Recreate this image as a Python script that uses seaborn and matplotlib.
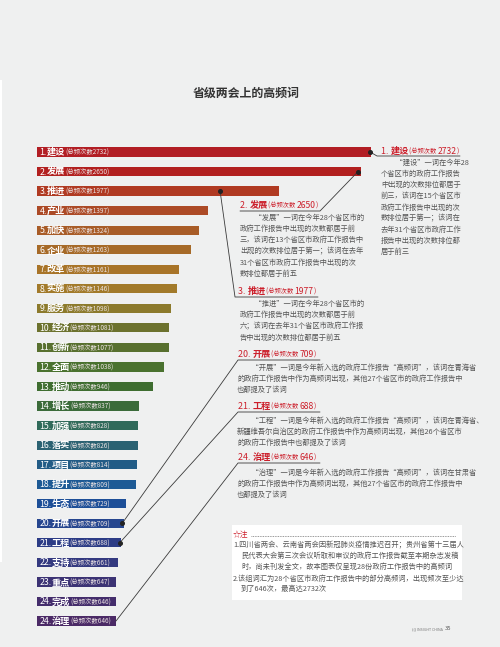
import matplotlib
matplotlib.use("Agg")
import matplotlib.pyplot as plt
import seaborn as sns
import pandas as pd
from matplotlib.transforms import Affine2D
from matplotlib.patches import Rectangle
from matplotlib.lines import Line2D

# ---------------- data ----------------
ranks = [1, 2, 3, 4, 5, 6, 7, 8, 9, 10, 11, 12, 13, 14, 15, 16, 17, 18, 19, 20, 21, 22, 23, 24, 24]
words = ["建设", "发展", "推进", "产业", "加快", "企业", "改革", "实施", "服务", "经济", "创新", "全面",
         "推动", "增长", "加强", "落实", "项目", "提升", "生态", "开展", "工程", "支持", "重点", "完成", "治理"]
counts = [2732, 2650, 1977, 1397, 1324, 1263, 1161, 1146, 1098, 1081, 1077, 1038,
          946, 837, 828, 826, 814, 809, 729, 709, 688, 661, 647, 646, 646]
bar_colors = ["#b21e24", "#b2201f", "#b03a22", "#ac4a26", "#a85c27", "#a66a28", "#a87428", "#a27a2a",
              "#8c7a2c", "#6c722e", "#58702f", "#4a722f", "#3e6d30", "#3b6b3a", "#306a5a", "#2b6272",
              "#225c86", "#1d5a95", "#1d4f98", "#26468f", "#2c3c86", "#343a80", "#3c3374", "#442d6c", "#4b2a66"]

title = "省级两会上的高频词"
count_prefix = "(总频次数"

notes_texts = {
    0: ["　　“建设”一词在今年28", "个省区市的政府工作报告", "中出现的次数排位都居于", "前三，该词在15个省区市",
        "政府工作报告中出现的次", "数排位居于第一；该词在", "去年31个省区市政府工作", "报告中出现的次数排位都", "居于前三"],
    1: ["　　“发展”一词在今年28个省区市的", "政府工作报告中出现的次数都居于前", "三，该词在13个省区市政府工作报告中",
        "出现的次数排位居于第一；该词在去年", "31个省区市政府工作报告中出现的次", "数排位都居于前五"],
    2: ["　　“推进”一词在今年28个省区市的", "政府工作报告中出现的次数都居于前", "六；该词在去年31个省区市政府工作报",
        "告中出现的次数排位都居于前五"],
    19: ["　　“开展”一词是今年新入选的政府工作报告“高频词”，该词在青海省",
         "的政府工作报告中作为高频词出现，其他27个省区市的政府工作报告中", "也都提及了该词"],
    20: ["　　“工程”一词是今年新入选的政府工作报告“高频词”，该词在青海省、",
         "新疆维吾尔自治区的政府工作报告中作为高频词出现，其他26个省区市", "的政府工作报告中也都提及了该词"],
    24: ["　　“治理”一词是今年新入选的政府工作报告“高频词”，该词在甘肃省",
         "的政府工作报告中作为高频词出现，其他27个省区市的政府工作报告中", "也都提及了该词"],
}
footnote_title = "☆注"
footnote_lines = [
    ("1.", ["四川省两会、云南省两会因新冠肺炎疫情推迟召开；贵州省第十三届人",
            "民代表大会第三次会议听取和审议的政府工作报告截至本期杂志发稿",
            "时，尚未刊发全文，故本图表仅呈现28份政府工作报告中的高频词"]),
    ("2.", ["该组词汇为28个省区市政府工作报告中的部分高频词，出现频次至少达",
            "到了646次，最高达2732次"]),
]

# ---------------- figure ----------------
sns.set_theme(style="white")
plt.rcParams['font.family'] = ['Noto Sans CJK SC', 'DejaVu Sans']

W, H = 500, 647
BG = "#eff0f0"
fig = plt.figure(figsize=(W / 100, H / 100), dpi=100)
fig.patch.set_facecolor(BG)
renderer = fig.canvas.get_renderer()
PX = Affine2D().scale(0.01) + fig.dpi_scale_trans   # pixel coords (100 dpi), y up


def dy(py):
    """pixel-from-top -> pixel-from-bottom"""
    return H - py


scale = 0.1223  # px per unit
n = len(counts)
top_c, step = 152.0, (621.0 - 152.0) / (n - 1)
ax_top = top_c - step / 2
ax_bot = ax_top + step * n
ax = fig.add_axes([37 / W, 1 - ax_bot / H, (W - 37) / W, (ax_bot - ax_top) / H])
ax.set_facecolor(BG)

df = pd.DataFrame({"label": [f"{r}.{w}" for r, w in zip(ranks, words)], "count": counts})
sns.barplot(data=df, x="count", y="label", hue="label", palette=bar_colors, legend=False,
            orient="h", width=0.47, saturation=1, dodge=False, linewidth=0, edgecolor="none", ax=ax)
ax.set_xlim(0, (W - 37) / scale)
ax.set_ylim(n - 0.5, -0.5)
ax.set_axis_off()

# left white strip
fig.patches.append(Rectangle((0, dy(562)), 2, 562 - 80, transform=PX, facecolor="white", edgecolor="none"))


def runs(x, y, parts):
    for s, size, weight, color in parts:
        t = fig.text(x, y, s, fontsize=size, fontweight=weight, color=color, transform=PX, va="baseline")
        x = t.get_window_extent(renderer).x1 * 100.0 / fig.dpi
    return x


# bar labels
for i, (r, w, c) in enumerate(zip(ranks, words, counts)):
    x0, yc = ax.transData.transform((0, i))
    runs(x0 + 2.5, yc - 3.0, [(f"{r}.", 6.3, "normal", "white"),
                              (w, 6.6, "bold", "white"),
                              (f"{count_prefix}{c})", 4.6, "normal", "#ece4e4")])

# title
fig.text(246 / W, 1 - 93 / H, title, fontsize=8.6, fontweight="bold", color="#333333", ha="center", va="center")

RED = "#cc1f2b"
BODY = "#555555"
LINE = "#3a3a3a"

# idx -> (anchor offset in data units, bend px, underline end px, heading x, heading baseline y, body x, first body y)
ann = {
    0: (-8, (377, 156), (460, 156), 381, 154, 381, 163),
    1: (-25, (320, 211), (240, 211), 240, 208, 240, 218),
    2: (-480, (235, 297), (318, 297), 238, 294, 240, 304),
    19: (-12, (238, 360), (320, 360), 238, 357, 237, 368),
    20: (-12, (238, 412), (320, 412), 238, 409, 237, 421),
    24: (0, (238, 463), (320, 463), 238, 460, 237, 473),
}
for idx, (off, bend, uend, hx, hy, bx, by) in ann.items():
    ex, ey = ax.transData.transform((counts[idx] + off, idx))
    fig.lines.append(Line2D([ex, bend[0], uend[0]], [ey, dy(bend[1]), dy(uend[1])], transform=PX,
                            color=LINE, lw=0.6))
    if off != 0:
        fig.lines.append(Line2D([ex], [ey], transform=PX, marker="o", markersize=2.6,
                                color="#222222", lw=0))
    runs(hx, dy(hy), [(f"{ranks[idx]}. ", 6.4, "normal", RED),
                      (words[idx], 6.6, "bold", RED),
                      (count_prefix + " ", 4.5, "normal", RED),
                      (str(counts[idx]), 6.2, "normal", RED),
                      (")", 4.5, "normal", RED)])
    for k, line in enumerate(notes_texts[idx]):
        fig.text(bx, dy(by + k * 11.1), line, fontsize=5.25, color=BODY, transform=PX, va="center")

# notes box
fig.patches.append(Rectangle((232, dy(600)), 230, 75, transform=PX, facecolor="white", edgecolor="none"))
fig.text(233, dy(535), footnote_title, fontsize=5.6, color=RED, transform=PX, va="center")
fig.lines.append(Line2D([251, 456], [dy(535.5), dy(535.5)], transform=PX, color="#777777", lw=0.6,
                        linestyle=(0, (1, 1))))
yy = 545.5
for num, lines in footnote_lines:
    for k, line in enumerate(lines):
        if k == 0:
            fig.text(233, dy(yy), num + line, fontsize=5.2, color=BODY, transform=PX, va="center")
        else:
            fig.text(241, dy(yy), line, fontsize=5.2, color=BODY, transform=PX, va="center")
        yy += 10.4
    yy += 2.0

# footer
runs(412, dy(630), [("((( INSIGHT CHINA  ", 2.6, "normal", "#777777"), ("35", 4.2, "normal", "#555555")])

fig.savefig("out.png", dpi=100, facecolor=BG)
